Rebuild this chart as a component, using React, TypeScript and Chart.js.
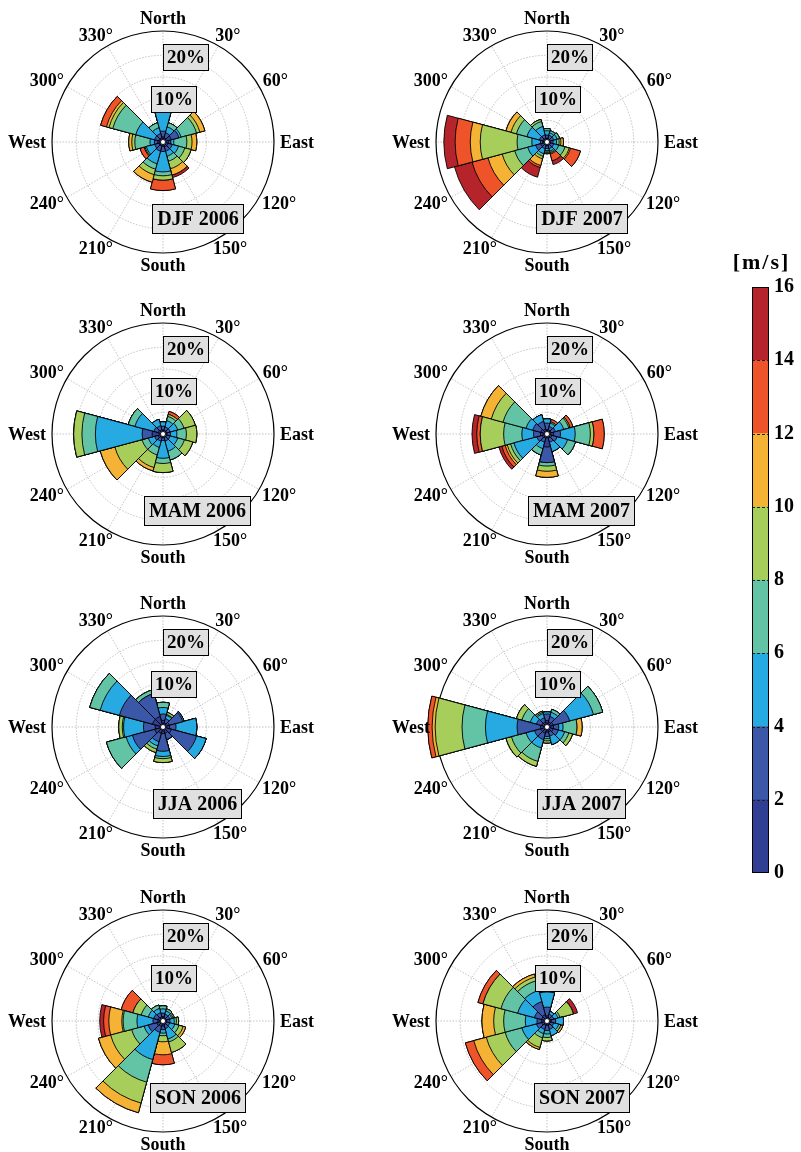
import React, { useEffect, useRef } from 'react';
import { Chart, registerables } from 'chart.js';

Chart.register(...registerables);

// ---------- categories / bins / ticks ----------
const DIRECTIONS = ['North', '30°', '60°', 'East', '120°', '150°', 'South', '210°', '240°', 'West', '300°', '330°'];
const DIRECTION_DEG = [0, 30, 60, 90, 120, 150, 180, 210, 240, 270, 300, 330];
const SPEED_EDGES = [0, 2, 4, 6, 8, 10, 12, 14, 16];
const BIN_COLORS = ['#303f94', '#3b57a8', '#27aae1', '#63c3a5', '#a7cd5b', '#f5b335', '#ef5329', '#b5242a'];
const RING_TICKS = [5, 10, 15, 20];
const PERCENT_LABELS = [10, 20];
const RADIAL_MAX = 25.6;
const SEASONS = ['DJF 2006', 'DJF 2007', 'MAM 2006', 'MAM 2007', 'JJA 2006', 'JJA 2007', 'SON 2006', 'SON 2007'];

// ---------- frequency (%) per direction (rows: N..330) per speed bin (cols: 0-2 .. 14-16) ----------
const DJF_2006 = [
  [1.2, 1.3, 4.7, 0, 0, 0, 0, 0],
  [1.0, 1.2, 1.4, 1.0, 0, 0, 0, 0],
  [2.0, 1.8, 0.5, 3.7, 0.8, 1.2, 0, 0],
  [1.3, 0.5, 0.7, 3.0, 1.2, 1.1, 0, 0],
  [1.2, 1.0, 1.5, 1.5, 1.5, 0, 0, 0],
  [1.2, 1.0, 1.2, 1.2, 1.8, 1.5, 0, 0.6],
  [1.0, 1.2, 4.7, 0.9, 1.0, 0, 2.4, 0],
  [1.0, 1.2, 3.0, 1.3, 1.3, 1.8, 0, 0],
  [1.0, 1.0, 2.0, 0.3, 0.2, 0, 1.0, 0],
  [1.2, 0.8, 1.0, 3.5, 0.7, 0.7, 0, 0],
  [1.0, 1.0, 4.5, 5.5, 0.9, 0.6, 1.4, 0],
  [1.0, 1.0, 1.4, 1.2, 0, 0, 0, 0],
];
const DJF_2007 = [
  [0.8, 0.8, 1.0, 0.5, 0, 0, 0, 0],
  [0.8, 0.8, 0.6, 0.5, 0, 0, 0, 0],
  [0.8, 0.8, 0.8, 0.6, 0, 0, 0, 0],
  [0.7, 0.7, 0.8, 0.6, 0.4, 0.6, 0, 0],
  [0.8, 0.8, 1.2, 1.5, 1.0, 0.3, 2.4, 0],
  [0.8, 0.8, 0.6, 0.3, 0.2, 0.2, 1.6, 0.9],
  [0.8, 0.7, 0.5, 0.3, 0.2, 0.2, 0, 0],
  [0.8, 0.8, 1.2, 0.6, 0.6, 1.6, 0.5, 2.3],
  [1.5, 1.2, 1.9, 3.1, 3.0, 3.4, 3.8, 4.2],
  [1.0, 0.5, 2.0, 3.4, 8.5, 2.3, 3.5, 2.6],
  [1.0, 0.8, 3.0, 2.5, 1.3, 1.2, 0, 0],
  [0.9, 0.8, 2.0, 1.2, 0.5, 0, 0, 0],
];
const MAM_2006 = [
  [0.9, 0.9, 1.0, 0, 0, 0, 0, 0],
  [0.9, 0.8, 1.5, 1.0, 0.5, 0, 0.7, 0],
  [0.9, 0.8, 1.8, 1.5, 2.7, 0, 0, 0],
  [0.9, 0.8, 1.5, 2.2, 2.4, 0, 0, 0],
  [0.9, 0.8, 1.8, 1.6, 2.0, 0, 0, 0],
  [0.9, 0.8, 2.4, 2.1, 0, 0, 0, 0],
  [0.8, 0.7, 4.1, 1.2, 2.1, 0, 0, 0],
  [0.9, 0.8, 1.5, 1.8, 3.0, 0.8, 0, 0],
  [1.2, 0.8, 1.5, 1.5, 6.5, 3.5, 0, 0],
  [2.5, 2.3, 10.8, 3.1, 1.9, 0, 0, 0],
  [1.2, 1.0, 4.5, 1.6, 0, 0, 0, 0],
  [1.0, 1.0, 1.5, 0, 0, 0, 0, 0],
];
const MAM_2007 = [
  [1.0, 1.5, 1.0, 0, 0, 0, 0, 0],
  [1.0, 0.8, 0.8, 0.3, 0, 0, 0.6, 0],
  [1.0, 1.0, 2.0, 1.2, 0.3, 0, 0.7, 0],
  [1.5, 1.6, 3.4, 3.5, 0.8, 0, 2.4, 0],
  [1.2, 1.2, 2.5, 1.9, 0, 0, 0, 0],
  [1.0, 1.0, 2.2, 0, 0, 0, 0, 0],
  [3.0, 3.6, 0, 0.8, 1.2, 1.4, 0, 0],
  [1.0, 1.0, 1.5, 1.5, 0, 0, 0, 0],
  [1.2, 1.2, 5.5, 0.8, 0.8, 0.5, 0.8, 0.7],
  [1.5, 1.6, 2.7, 4.2, 5.4, 0, 0.8, 1.1],
  [1.5, 1.9, 1.6, 5.5, 2.8, 2.5, 0, 0],
  [1.2, 1.8, 1.6, 0, 0, 0, 0, 0],
];
const JJA_2006 = [
  [1.5, 1.5, 1.5, 1.2, 0, 0, 0, 0],
  [1.0, 1.0, 0.8, 0.2, 0.5, 0, 0, 0],
  [1.5, 3.2, 0.3, 0, 0, 0, 0, 0],
  [1.5, 1.5, 4.8, 0, 0, 0, 0, 0],
  [2.0, 6.0, 2.3, 0, 0, 0, 0, 0],
  [1.5, 1.5, 0, 0, 0, 0, 0, 0],
  [1.5, 4.1, 1.2, 0.5, 0.9, 0, 0, 0],
  [1.5, 2.0, 1.0, 0.8, 0.8, 0, 0, 0],
  [2.0, 5.3, 1.5, 4.7, 0, 0, 0, 0],
  [1.8, 2.7, 4.6, 0.3, 0.8, 0, 0, 0],
  [2.5, 7.9, 4.6, 2.5, 0, 0, 0, 0],
  [2.5, 5.5, 0, 0.9, 0, 0, 0, 0],
];
const JJA_2007 = [
  [1.5, 1.5, 0.5, 0, 0, 0, 0, 0],
  [1.2, 1.3, 1.0, 0.7, 0, 0, 0, 0],
  [1.5, 3.9, 5.7, 2.2, 0, 0, 0, 0],
  [1.5, 1.2, 1.0, 3.2, 0, 1.2, 0, 0],
  [1.5, 1.2, 1.5, 1.0, 0.9, 0, 0, 0],
  [1.2, 1.0, 2.0, 0, 0, 0, 0, 0],
  [1.2, 1.0, 0.5, 0.5, 0.5, 0, 0, 0],
  [1.5, 1.5, 2.0, 3.2, 1.2, 0, 0, 0],
  [1.5, 1.5, 2.0, 3.5, 1.3, 0, 0, 0],
  [1.5, 5.4, 7.3, 5.4, 6.2, 0.7, 1.0, 0],
  [1.3, 1.2, 1.5, 2.0, 1.3, 0, 0, 0],
  [1.2, 1.0, 1.0, 0.3, 0.3, 0, 0, 0],
];
const SON_2006 = [
  [1.0, 0.8, 1.0, 0.7, 0, 0, 0, 0],
  [0.8, 0.8, 0.8, 0.5, 0, 0, 0, 0],
  [0.8, 0.8, 0.5, 0.3, 0.3, 0, 0, 0],
  [0.8, 0.8, 1.0, 0.5, 0.5, 0, 0, 0],
  [0.8, 0.8, 1.2, 1.0, 1.0, 0.6, 0, 0],
  [0.9, 0.9, 2.5, 0.7, 2.5, 0, 0, 0],
  [1.2, 0.8, 0.8, 0.6, 1.4, 3.0, 2.3, 0],
  [1.3, 1.4, 6.5, 5.4, 5.0, 2.3, 0, 0],
  [1.5, 2.0, 1.0, 3.0, 5.0, 2.9, 0, 0],
  [1.2, 1.1, 3.7, 3.2, 0.3, 3.0, 1.2, 0.9],
  [1.2, 1.0, 1.3, 1.7, 2.0, 0, 2.8, 0],
  [1.0, 1.0, 1.0, 0.8, 0, 0, 0, 0],
];
const SON_2007 = [
  [1.2, 2.0, 3.5, 0, 0, 0, 0, 0],
  [0.8, 0.8, 0.7, 0, 0, 0, 0, 0],
  [0.8, 0.8, 1.0, 0.5, 3.2, 0, 0, 1.0],
  [1.0, 1.0, 1.8, 0, 0, 0, 0, 0],
  [0.8, 0.8, 1.2, 0.5, 0, 0.5, 0, 0],
  [1.0, 1.0, 1.5, 0, 0, 0, 0, 0],
  [1.0, 1.2, 0.8, 0.8, 0.8, 0, 0, 0],
  [1.0, 1.0, 1.0, 1.0, 2.3, 0.5, 0, 0],
  [1.3, 1.2, 3.5, 4.0, 4.5, 3.0, 2.0, 0],
  [1.3, 1.0, 2.7, 5.0, 2.3, 2.7, 0, 0],
  [1.3, 1.7, 4.0, 4.0, 4.3, 0, 1.2, 0],
  [1.5, 3.1, 2.7, 2.3, 0.9, 0.7, 0, 0],
];

const PANEL_ROWS = [DJF_2006, DJF_2007, MAM_2006, MAM_2007, JJA_2006, JJA_2007, SON_2006, SON_2007];

// ---------- layout ----------
const FONT_FAMILY = '"Liberation Serif", "Times New Roman", serif';
const COL_X = [163, 547];
const ROW_Y = [142, 434, 727, 1021];
const CANVAS_W = 340;
const CANVAS_H = 290;
const PLOT_SIZE = 222;
const PAD_X = (CANVAS_W - PLOT_SIZE) / 2;
const PAD_Y = (CANVAS_H - PLOT_SIZE) / 2;

function cumulativeByBin(rows: number[][]): number[][] {
  return BIN_COLORS.map((_, b) =>
    rows.map((r) => {
      let s = 0;
      for (let i = 0; i <= b; i++) s += r[i];
      return +s.toFixed(3);
    })
  );
}

function drawBox(ctx: CanvasRenderingContext2D, text: string, cx: number, cy: number, font: string, padX: number, h: number) {
  ctx.font = font;
  const w = Math.round(ctx.measureText(text).width + 2 * padX);
  const left = Math.round(cx - w / 2);
  const top = Math.round(cy - h / 2);
  ctx.fillStyle = '#e0e0e0';
  ctx.fillRect(left, top, w, h);
  ctx.strokeStyle = '#000';
  ctx.lineWidth = 1;
  ctx.setLineDash([]);
  ctx.strokeRect(left + 0.5, top + 0.5, w - 1, h - 1);
  ctx.fillStyle = '#000';
  ctx.textAlign = 'center';
  ctx.textBaseline = 'middle';
  ctx.fillText(text, left + w / 2, top + h / 2 + 1);
}

function rosePlugin(title: string) {
  return {
    id: 'roseDecor',
    beforeDatasetsDraw(chart: any) {
      const s = chart.scales.r;
      const ctx: CanvasRenderingContext2D = chart.ctx;
      const x0 = s.xCenter;
      const y0 = s.yCenter;
      const R = s.getDistanceFromCenterForValue(s.max);
      ctx.save();
      ctx.strokeStyle = '#b4b4b4';
      ctx.lineWidth = 0.8;
      ctx.setLineDash([1.5, 1.5]);
      RING_TICKS.forEach((v) => {
        const r = s.getDistanceFromCenterForValue(v);
        ctx.beginPath();
        ctx.arc(x0, y0, r, 0, Math.PI * 2);
        ctx.stroke();
      });
      DIRECTION_DEG.forEach((d) => {
        const a = (d * Math.PI) / 180;
        ctx.beginPath();
        ctx.moveTo(x0, y0);
        ctx.lineTo(x0 + R * Math.sin(a), y0 - R * Math.cos(a));
        ctx.stroke();
      });
      ctx.setLineDash([]);
      ctx.strokeStyle = '#000';
      ctx.lineWidth = 1.2;
      ctx.beginPath();
      ctx.arc(x0, y0, R, 0, Math.PI * 2);
      ctx.stroke();
      ctx.restore();
    },
    afterDatasetsDraw(chart: any) {
      const s = chart.scales.r;
      const ctx: CanvasRenderingContext2D = chart.ctx;
      const x0 = s.xCenter;
      const y0 = s.yCenter;
      const R = s.getDistanceFromCenterForValue(s.max);
      ctx.save();
      // center hole
      ctx.fillStyle = '#fff';
      ctx.strokeStyle = '#000';
      ctx.lineWidth = 0.8;
      ctx.beginPath();
      ctx.arc(x0, y0, 2.5, 0, Math.PI * 2);
      ctx.fill();
      ctx.stroke();
      // percentage labels
      const la = (15 * Math.PI) / 180;
      PERCENT_LABELS.forEach((v) => {
        const r = s.getDistanceFromCenterForValue(v) + 1;
        drawBox(ctx, v + '%', x0 + r * Math.sin(la), y0 - r * Math.cos(la), `bold 19px ${FONT_FAMILY}`, 4, 27);
      });
      // direction labels
      ctx.font = `bold 18px ${FONT_FAMILY}`;
      ctx.fillStyle = '#000';
      ctx.textAlign = 'center';
      ctx.textBaseline = 'middle';
      const r0 = R + 6;
      const capH = 12.5;
      DIRECTIONS.forEach((lab, i) => {
        const a = (DIRECTION_DEG[i] * Math.PI) / 180;
        const sx = Math.sin(a);
        const cy = -Math.cos(a);
        const w = ctx.measureText(lab).width;
        const px = x0 + r0 * sx + (sx * w) / 2;
        const py = y0 + r0 * cy + (cy * capH) / 2;
        ctx.fillText(lab, px, py + 1);
      });
      // title box
      drawBox(ctx, title, x0 + 0.315 * R, y0 + 0.69 * R, `bold 20px ${FONT_FAMILY}`, 5, 30);
      ctx.restore();
    },
  };
}

function WindRose({ title, rows, cx, cy }: { title: string; rows: number[][]; cx: number; cy: number }) {
  const ref = useRef<HTMLCanvasElement>(null);
  useEffect(() => {
    if (!ref.current) return;
    const cum = cumulativeByBin(rows);
    const chart = new Chart(ref.current, {
      type: 'polarArea',
      data: {
        labels: DIRECTIONS,
        datasets: cum.map((vals, b) => ({
          label: `${SPEED_EDGES[b]}-${SPEED_EDGES[b + 1]} m/s`,
          data: vals,
          backgroundColor: BIN_COLORS[b],
          borderColor: '#000',
          borderWidth: 0.9,
          clip: false,
        })),
      } as any,
      options: {
        responsive: false,
        maintainAspectRatio: false,
        animation: false,
        layout: { padding: { left: PAD_X, right: PAD_X, top: PAD_Y, bottom: PAD_Y } },
        plugins: { legend: { display: false }, tooltip: { enabled: false }, title: { display: false } },
        scales: {
          r: {
            min: 0,
            max: RADIAL_MAX,
            startAngle: -15,
            ticks: { display: false },
            grid: { display: false },
            angleLines: { display: false },
            pointLabels: { display: false },
          },
        },
      } as any,
      plugins: [rosePlugin(title) as any],
    });
    return () => chart.destroy();
  }, [title, rows]);
  return (
    <canvas
      ref={ref}
      width={CANVAS_W}
      height={CANVAS_H}
      style={{ position: 'absolute', left: cx - (PAD_X + PLOT_SIZE / 2), top: cy - (PAD_Y + PLOT_SIZE / 2), width: CANVAS_W, height: CANVAS_H }}
    />
  );
}

// ---------- colour bar ----------
const CB_LEFT = 725;
const CB_TOP = 240;
const CB_W = 76;
const CB_H = 650;

function ColorBar() {
  const ref = useRef<HTMLCanvasElement>(null);
  useEffect(() => {
    if (!ref.current) return;
    const chart = new Chart(ref.current, {
      type: 'bar',
      data: {
        labels: [''],
        datasets: BIN_COLORS.map((c, i) => ({
          label: `${SPEED_EDGES[i]}-${SPEED_EDGES[i + 1]}`,
          data: [SPEED_EDGES[i + 1] - SPEED_EDGES[i]],
          backgroundColor: c,
          borderWidth: 0,
          barPercentage: 1,
          categoryPercentage: 1,
          stack: 'cb',
        })),
      },
      options: {
        responsive: false,
        maintainAspectRatio: false,
        animation: false,
        layout: { padding: { left: 27, right: 0, top: 47, bottom: 17 } },
        plugins: { legend: { display: false }, tooltip: { enabled: false } },
        scales: {
          x: { display: false, stacked: true },
          y: {
            stacked: true,
            position: 'right',
            min: SPEED_EDGES[0],
            max: SPEED_EDGES[SPEED_EDGES.length - 1],
            afterFit: (sc: any) => {
              sc.width = 32;
            },
            afterBuildTicks: (sc: any) => {
              sc.ticks = SPEED_EDGES.map((v) => ({ value: v }));
            },
            ticks: { color: '#000', padding: 5, font: { family: FONT_FAMILY, size: 20, weight: 'bold' } },
            grid: { display: false, drawTicks: false },
            border: { display: false },
          },
        },
      } as any,
      plugins: [
        {
          id: 'cbDecor',
          afterDatasetsDraw(ch: any) {
            const ctx: CanvasRenderingContext2D = ch.ctx;
            const a = ch.chartArea;
            const y = ch.scales.y;
            ctx.save();
            ctx.strokeStyle = '#222';
            ctx.lineWidth = 1;
            ctx.setLineDash([3, 2]);
            SPEED_EDGES.slice(1, -1).forEach((v) => {
              const py = Math.round(y.getPixelForValue(v)) + 0.5;
              ctx.beginPath();
              ctx.moveTo(a.left, py);
              ctx.lineTo(a.right, py);
              ctx.stroke();
            });
            ctx.setLineDash([]);
            ctx.strokeStyle = '#000';
            ctx.strokeRect(a.left + 0.5, a.top + 0.5, a.right - a.left - 1, a.bottom - a.top - 1);
            ctx.fillStyle = '#000';
            ctx.font = `bold 22px ${FONT_FAMILY}`;
            (ctx as any).letterSpacing = '2px';
            ctx.textAlign = 'center';
            ctx.textBaseline = 'middle';
            ctx.fillText('[m/s]', (a.left + a.right) / 2 + 1, a.top - 24);
            ctx.restore();
          },
        } as any,
      ],
    });
    return () => chart.destroy();
  }, []);
  return (
    <canvas
      ref={ref}
      width={CB_W}
      height={CB_H}
      style={{ position: 'absolute', left: CB_LEFT, top: CB_TOP, width: CB_W, height: CB_H }}
    />
  );
}

export default function App() {
  return (
    <div style={{ position: 'absolute', left: 0, top: 0, width: 801, height: 1152, overflow: 'hidden', background: '#fff' }}>
      {PANEL_ROWS.map((rows, i) => (
        <WindRose key={SEASONS[i]} title={SEASONS[i]} rows={rows} cx={COL_X[i % 2]} cy={ROW_Y[Math.floor(i / 2)]} />
      ))}
      <ColorBar />
    </div>
  );
}
